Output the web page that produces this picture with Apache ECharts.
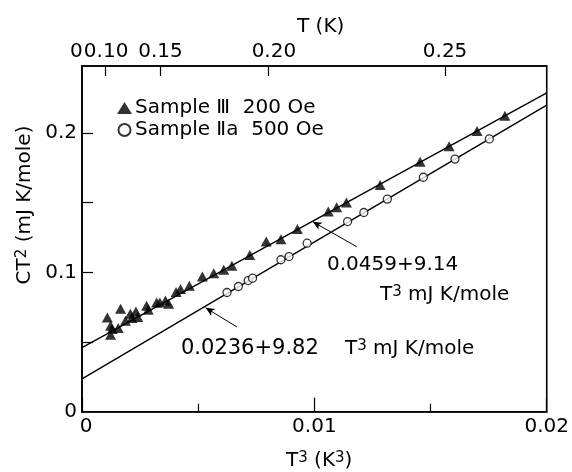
<!DOCTYPE html>
<html>
<head>
<meta charset="utf-8">
<script src="https://cdn.jsdelivr.net/npm/echarts@6/dist/echarts.min.js"></script>
<style>html,body{margin:0;padding:0;background:#fff;}#c{width:572px;height:472px;}</style>
</head>
<body>
<div id="c"></div>
<script>
// Sample III, 200 Oe (filled triangles)
const sampleIII_T3 = [0.00109,0.00166,0.00123,0.00130,0.00123,0.00156,0.00187,0.00208,0.00215,0.00232,0.00240,0.00278,0.00285,0.00321,0.00335,0.00359,0.00373,0.00405,0.00424,0.00462,0.00518,0.00567,0.00610,0.00645,0.00722,0.00793,0.00856,0.00927,0.01060,0.01096,0.01138,0.01283,0.01455,0.01580,0.01700,0.01820];
const sampleIII_CT2 = [0.0676,0.0738,0.0616,0.0593,0.0552,0.0600,0.0652,0.0703,0.0672,0.0719,0.0679,0.0760,0.0731,0.0784,0.0784,0.0798,0.0774,0.0858,0.0880,0.0903,0.0970,0.0994,0.1018,0.1047,0.1125,0.1221,0.1238,0.1310,0.1436,0.1467,0.1500,0.1627,0.1794,0.1905,0.2013,0.2123];
// Sample IIa, 500 Oe (open circles)
const sampleIIa_T3 = [0.00624,0.00673,0.00715,0.00734,0.00856,0.00891,0.00969,0.01143,0.01213,0.01314,0.01469,0.01605,0.01753];
const sampleIIa_CT2 = [0.0855,0.0898,0.0941,0.0958,0.1090,0.1113,0.1209,0.1364,0.1429,0.1525,0.1682,0.1812,0.1957];
// fitted lines (end points at T^3 = 0 and 0.02)
const fitIII = [[0, 0.0459], [0.02, 0.2287]];
const fitIIa = [[0, 0.0236], [0.02, 0.2200]];
// annotation arrows [tail, head] in data units
const arrowIII = [[0.01183, 0.1183], [0.00993, 0.1363]];
const arrowIIa = [[0.00667, 0.0608], [0.00532, 0.0745]];
// tick labels
const bottomTicks = [0, 0.01, 0.02];
const bottomTickLabels = ['0', '0.01', '0.02'];
const leftTicks = [0, 0.1, 0.2];
const leftTickLabels = ['0', '0.1', '0.2'];
const topTickT = [0.10, 0.15, 0.20, 0.25];
const topTickLabels = ['0.10', '0.15', '0.20', '0.25'];

const FONT = 'DejaVu Sans';
const topPos = topTickT.map(t => t * t * t);

function pairs(xs, ys) { return xs.map((x, i) => [x, ys[i]]); }
function near(a, b) { return Math.abs(a - b) < 1e-9; }

const chart = echarts.init(document.getElementById('c'), null, {renderer: 'canvas'});
const supRich = {
  b: {fontFamily: FONT, fontSize: 20, color: '#000', lineHeight: 20, verticalAlign: 'bottom'},
  w: {fontFamily: FONT, fontSize: 21, color: '#000', lineHeight: 20, verticalAlign: 'bottom'},
  s: {fontFamily: FONT, fontSize: 15, color: '#000', lineHeight: 15, verticalAlign: 'top', padding: [0, 0, 16, 0]}
};

chart.setOption({
  animation: false,
  backgroundColor: '#fff',
  grid: {left: 82, right: 16.5, top: 66, bottom: 60.3, show: true, borderColor: '#000', borderWidth: 1.6, backgroundColor: 'transparent'},
  legend: {
    orient: 'vertical', left: 117, top: 97, padding: 0, itemGap: 0, itemWidth: 15, itemHeight: 12,
    textStyle: {fontFamily: FONT, fontSize: 20, color: '#000', lineHeight: 22, padding: [0, 0, 0, -2]},
    data: ['Sample Ⅲ  200 Oe', 'Sample Ⅱa  500 Oe']
  },
  xAxis: [{
    type: 'value', position: 'bottom', min: 0, max: 0.02, interval: 0.01,
    axisLine: {show: true, lineStyle: {color: '#000', width: 1.6}},
    splitLine: {show: false},
    axisTick: {show: true, inside: true, length: 14, lineStyle: {color: '#000', width: 1.2}},
    minorTick: {show: true, splitNumber: 2, length: 8, lineStyle: {color: '#000', width: 1.2}},
    axisLabel: {margin: 5, fontFamily: FONT, fontSize: 20, color: '#000', showMinLabel: true, showMaxLabel: true,
      formatter: v => { const i = bottomTicks.findIndex(t => near(t, v)); if (i === 0) return '{z|0}'; return i >= 0 ? bottomTickLabels[i] : ''; },
      rich: {z: {fontFamily: FONT, fontSize: 20, color: '#000', padding: [0, 0, 0, 8]}}}
  }, {
    type: 'value', position: 'top', min: 0, max: 0.02,
    axisLine: {show: true, lineStyle: {color: '#000', width: 1.6}},
    splitLine: {show: false},
    axisTick: {show: true, inside: true, length: 10, customValues: topPos, lineStyle: {color: '#000', width: 1.2}},
    axisLabel: {margin: 4, fontFamily: FONT, fontSize: 20, color: '#000', customValues: topPos,
      showMinLabel: true, showMaxLabel: true, hideOverlap: false,
      formatter: v => {
        const i = topPos.findIndex(t => near(t, v));
        if (i === 0) return '{z|0}{a|' + topTickLabels[i] + '}';
        if (i === 2) return '{c|' + topTickLabels[i] + '}';
        return i >= 0 ? topTickLabels[i] : '';
      },
      rich: {
        z: {fontFamily: FONT, fontSize: 20, color: '#000', padding: [0, 1, 0, 0]},
        a: {fontFamily: FONT, fontSize: 20, color: '#000', padding: [0, 12, 0, 0]},
        c: {fontFamily: FONT, fontSize: 20, color: '#000', padding: [0, 0, 0, 12]}
      }}
  }],
  yAxis: {
    type: 'value', min: 0, max: 0.248, interval: 0.1,
    axisLine: {show: true, lineStyle: {color: '#000', width: 1.6}},
    splitLine: {show: false},
    axisTick: {show: true, inside: true, length: 11, customValues: [0.05, 0.1, 0.15, 0.2], lineStyle: {color: '#000', width: 1.2}},
    axisLabel: {margin: 5, fontFamily: FONT, fontSize: 20, color: '#000', showMaxLabel: false, showMinLabel: true,
      formatter: v => { const i = leftTicks.findIndex(t => near(t, v)); return i >= 0 ? leftTickLabels[i] : ''; }}
  },
  graphic: [
    {type: 'text', left: 297, top: 17, style: {text: 'T (K)', fontFamily: FONT, fontSize: 20, fill: '#000'}},
    {type: 'text', x: 286, y: 471, style: {text: '{b|T}{s|3}{b| (K}{s|3}{b|)}', rich: supRich, verticalAlign: 'bottom'}},
    {type: 'text', x: 35, y: 205, rotation: Math.PI / 2, style: {text: '{b|CT}{s|2}{b| (mJ K/mole)}', rich: supRich, align: 'center', verticalAlign: 'bottom'}},
    {type: 'text', x: 327, y: 265, style: {text: '0.0459+9.14', fontFamily: FONT, fontSize: 20, fill: '#000', verticalAlign: 'middle'}},
    {type: 'text', x: 380, y: 305, style: {text: '{b|T}{s|3}{b| mJ K/mole}', rich: supRich, verticalAlign: 'bottom'}},
    {type: 'text', x: 181, y: 359, style: {text: '{w|0.0236+9.82}', rich: supRich, verticalAlign: 'bottom'}},
    {type: 'text', x: 345, y: 359, style: {text: '{b|T}{s|3}{b| mJ K/mole}', rich: supRich, verticalAlign: 'bottom'}}
  ],
  series: [
    {
      name: 'Sample Ⅲ  200 Oe', type: 'scatter', symbol: 'triangle', symbolSize: [11, 10],
      itemStyle: {color: '#000'}, data: pairs(sampleIII_T3, sampleIII_CT2), z: 5
    },
    {
      name: 'Sample Ⅱa  500 Oe', type: 'scatter', symbol: 'circle', symbolSize: 8,
      itemStyle: {color: '#fff', borderColor: '#000', borderWidth: 1.3}, data: pairs(sampleIIa_T3, sampleIIa_CT2), z: 5
    },
    {
      type: 'line', data: fitIII, symbol: 'none', lineStyle: {color: '#000', width: 1.4}, z: 3,
      markLine: {silent: true, symbol: ['none', 'arrow'], symbolSize: [6, 9], label: {show: false},
        lineStyle: {color: '#000', width: 1, type: 'solid'},
        data: [[{coord: arrowIII[0]}, {coord: arrowIII[1]}]]}
    },
    {
      type: 'line', data: fitIIa, symbol: 'none', lineStyle: {color: '#000', width: 1.4}, z: 3,
      markLine: {silent: true, symbol: ['none', 'arrow'], symbolSize: [6, 9], label: {show: false},
        lineStyle: {color: '#000', width: 1, type: 'solid'},
        data: [[{coord: arrowIIa[0]}, {coord: arrowIIa[1]}]]}
    }
  ]
});
</script>
</body>
</html>
